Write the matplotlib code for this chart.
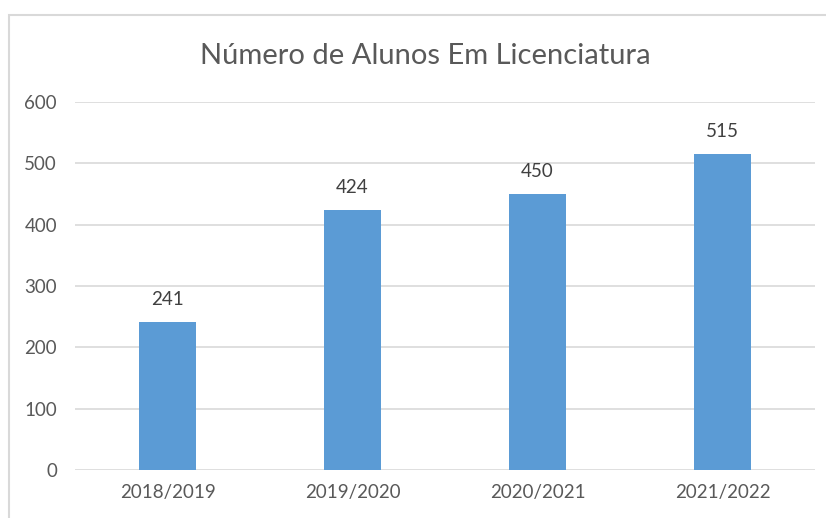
import matplotlib
matplotlib.use("Agg")
import matplotlib.pyplot as plt
from matplotlib.patches import Rectangle

categories = ["2018/2019", "2019/2020", "2020/2021", "2021/2022"]
values = [241, 424, 450, 515]
yticks = [0, 100, 200, 300, 400, 500, 600]
title = "Número de Alunos Em Licenciatura"

plt.rcParams['font.family'] = ['Lato', 'DejaVu Sans']

W, H = 826, 518
fig = plt.figure(figsize=(W/100, H/100), dpi=100)
fig.patch.set_facecolor("white")

# chart frame (cropped on right and bottom)
fig.patches.append(Rectangle((9/W, -0.2), 1.2, 1 - 15/H + 0.2, transform=fig.transFigure,
                             fill=False, edgecolor="#D9D9D9", linewidth=1.5))

ax = fig.add_axes([75/W, 1 - 470/H, (815-75)/W, (470-102)/H])
x = range(len(categories))
ax.bar(x, values, width=0.31, color="#5B9BD5", zorder=3)
ax.set_xlim(-0.5, len(categories) - 0.5)
ax.set_ylim(0, 600)
ax.set_yticks(yticks)
ax.set_yticklabels([str(t) for t in yticks])
ax.set_xticks(list(x))
ax.set_xticklabels(categories)
ax.yaxis.grid(True, color="#D9D9D9", linewidth=1.2, zorder=0)
for s in ax.spines.values():
    s.set_visible(False)
ax.tick_params(axis="both", length=0, colors="#595959", labelsize=13.5)
ax.tick_params(axis="y", pad=13)
ax.tick_params(axis="x", pad=10)

for i, v in enumerate(values):
    ax.annotate(str(v), (i, v), xytext=(0, 10), textcoords="offset points",
                ha="center", va="bottom", fontsize=13.5, color="#404040")

fig.text(425/W, 1 - 56/H, title, ha="center", va="center", fontsize=21, color="#595959")

fig.savefig("out.png", dpi=100)
